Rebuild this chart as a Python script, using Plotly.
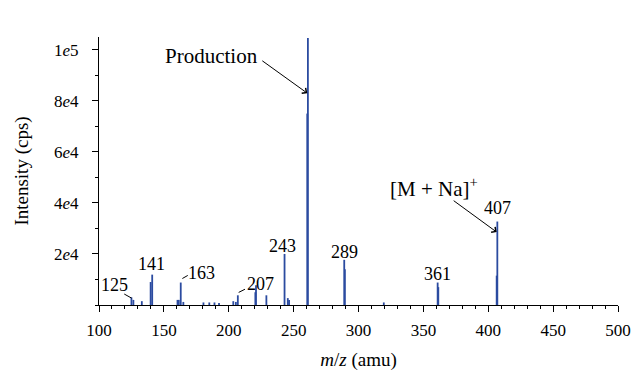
import plotly.graph_objects as go

# Peak sticks (m/z, intensity in cps)
mz = [125.0, 126.5, 133.0, 139.8, 141.0, 160.5, 161.5, 163.0, 165.0,
      180.5, 185.0, 189.0, 192.5, 203.5, 205.5, 207.0, 220.5, 221.0, 229.0,
      243.0, 245.5, 246.5, 260.5, 261.0, 289.0, 289.5, 319.5, 361.0, 361.5,
      406.5, 407.0]
intensity = [3000, 2000, 1500, 9000, 11900, 2000, 2000, 8800, 1200,
             1000, 1000, 1000, 800, 1500, 1200, 3800, 5000, 7700, 3800,
             20000, 2700, 2000, 75000, 104600, 17700, 14000, 1000, 8800, 7000,
             11500, 32700]

# Peak labels
label_text = ["125", "141", "163", "207", "243", "261", "289", "361", "407"]
label_x = [112.2, 140.3, 179.1, 224.7, 241.4, 261.0, 289.4, 360.8, 407.2]
label_y = [7720, 16200, 12350, 8100, 23160, 110800, 20840, 11970, 38200]

# Leader lines (tail -> head)
lead_x0 = [118.3, 163.1, 206.5]
lead_y0 = [4630, 10040, 4630]
lead_x1 = [125.1, 168.4, 212.5]
lead_y1 = [2700, 11580, 6180]

ytick_vals = [20000, 40000, 60000, 80000, 100000]
ytick_text = ["2<i>e</i>4", "4<i>e</i>4", "6<i>e</i>4", "8<i>e</i>4", "1<i>e</i>5"]

SERIF = "Liberation Serif, Times New Roman, serif"
BLUE = "#2b4ba0"

xs, ys = [], []
for m, v in zip(mz, intensity):
    xs += [m, m, None]
    ys += [0, v, None]

fig = go.Figure()
fig.add_trace(go.Scatter(x=xs, y=ys, mode="lines",
                         line=dict(color=BLUE, width=1.8),
                         hoverinfo="skip", showlegend=False))

ann = []
for t, x, y in zip(label_text, label_x, label_y):
    ann.append(dict(x=x, y=y, text=t, showarrow=False,
                    font=dict(family=SERIF, size=18, color="black")))
for x0, y0, x1, y1 in zip(lead_x0, lead_y0, lead_x1, lead_y1):
    ann.append(dict(x=x1, y=y1, ax=x0, ay=y0, xref="x", yref="y",
                    axref="x", ayref="y", text="", showarrow=True,
                    arrowhead=0, arrowwidth=1, arrowcolor="black"))

ann.append(dict(x=186.7, y=97660, text="Production", showarrow=False,
                font=dict(family=SERIF, size=21, color="black")))
ann.append(dict(x=260.5, y=83000, ax=224.7, ay=96100, xref="x", yref="y",
                axref="x", ayref="y", text="", showarrow=True,
                arrowhead=4, arrowsize=1.3, arrowwidth=1, arrowcolor="black"))
ann.append(dict(x=357.8, y=45930, text="[M + Na]<sup>+</sup>", showarrow=False,
                font=dict(family=SERIF, size=21, color="black")))
ann.append(dict(x=406.5, y=28560, ax=372.2, ay=41300, xref="x", yref="y",
                axref="x", ayref="y", text="", showarrow=True,
                arrowhead=4, arrowsize=1.3, arrowwidth=1, arrowcolor="black"))

fig.update_layout(
    width=643, height=379,
    margin=dict(l=99, r=18, t=37, b=70),
    paper_bgcolor="white", plot_bgcolor="white",
    font=dict(family=SERIF, size=16, color="black"),
    annotations=ann,
    xaxis=dict(range=[100, 500], tickvals=[100, 150, 200, 250, 300, 350, 400, 450, 500],
               showline=True, linecolor="black", linewidth=1.2,
               ticks="outside", ticklen=6, tickcolor="black",
               minor=dict(dtick=10, ticks="outside", ticklen=3, tickcolor="black"),
               showgrid=False, zeroline=False, ticklabelstandoff=3,
               title=dict(text="<i>m</i>/<i>z</i> (amu)", font=dict(size=19), standoff=14),
               tickfont=dict(size=17)),
    yaxis=dict(range=[0, 105000], tickvals=ytick_vals, ticktext=ytick_text,
               showline=True, linecolor="black", linewidth=1.2,
               ticks="outside", ticklen=6, tickcolor="black",
               minor=dict(dtick=10000, ticks="outside", ticklen=3, tickcolor="black"),
               showgrid=False, zeroline=False, ticklabelstandoff=10,
               title=dict(text="Intensity (cps)", font=dict(size=19), standoff=20),
               tickfont=dict(size=17)),
)

fig.write_html("out.html", config={"displayModeBar": False},
               post_script="document.body.style.margin='0';")
